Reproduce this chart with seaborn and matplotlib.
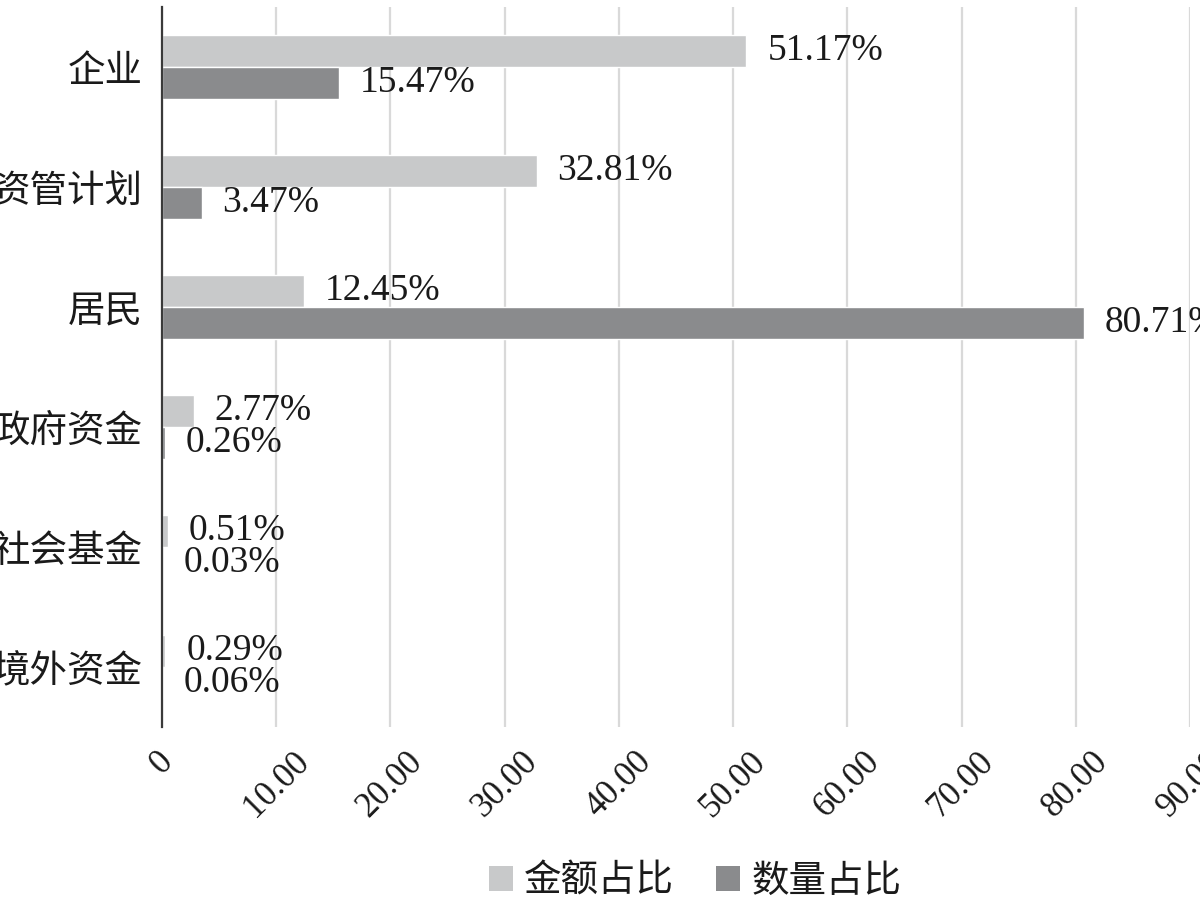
import pandas as pd
import seaborn as sns
import matplotlib.pyplot as plt
from matplotlib.patches import Patch

# 数据
categories = ["企业", "资管计划", "居民", "政府资金", "社会基金", "境外资金"]
amount_share = [51.17, 32.81, 12.45, 2.77, 0.51, 0.29]   # 金额占比
count_share = [15.47, 3.47, 80.71, 0.26, 0.03, 0.06]    # 数量占比
series_names = ["金额占比", "数量占比"]
xticks = [0, 10, 20, 30, 40, 50, 60, 70, 80, 90]
xtick_labels = ["0"] + [f"{v:.2f}" for v in xticks[1:]]

colors = ["#c8c9ca", "#8a8b8d"]
SERIF = ["Liberation Serif", "DejaVu Serif"]
CJK = ["Noto Sans CJK SC", "DejaVu Sans"]

df = pd.DataFrame({
    "类别": categories * 2,
    "占比": amount_share + count_share,
    "系列": [series_names[0]] * len(categories) + [series_names[1]] * len(categories),
})

sns.set_theme(style="white")
plt.rcParams["font.family"] = CJK

fig = plt.figure(figsize=(12, 9), dpi=100)
ax = fig.add_axes([162 / 1200, 1 - 727 / 900, (1190 - 162) / 1200, 720 / 900])

sns.barplot(data=df, y="类别", x="占比", hue="系列", order=categories,
            hue_order=series_names, palette=colors, width=0.53,
            orient="h", saturation=1, ax=ax, legend=False)

for cont, vals in zip(ax.containers, [amount_share, count_share]):
    ax.bar_label(cont, labels=[f"{v:.2f}%" for v in vals], padding=15,
                 fontsize=27, family=SERIF, color="#1a1a1a", clip_on=False)

ax.set_xlim(0, 90)
ax.set_xticks(xticks)
ax.set_xticklabels(xtick_labels, rotation=45, ha="center", va="top",
                   family=SERIF, fontsize=25, color="#1a1a1a")
ax.set_yticks(range(len(categories)))
ax.set_yticklabels(categories, family=CJK, fontsize=27, color="#1a1a1a")
ax.tick_params(axis="both", length=0)
ax.tick_params(axis="x", pad=13)
ax.tick_params(axis="y", pad=14)
ax.set_xlabel("")
ax.set_ylabel("")

ax.grid(axis="x", color="#d9d9d9", linewidth=1.6)
ax.set_axisbelow(True)
for side in ["top", "right", "bottom"]:
    ax.spines[side].set_visible(False)
ax.spines["left"].set_color("#3a3a3a")
ax.spines["left"].set_linewidth(1.6)

handles = [Patch(facecolor=c, edgecolor="none") for c in colors]
fig.legend(handles, series_names, loc="center", bbox_to_anchor=(695 / 1200, 1 - 881 / 900),
           ncol=2, frameon=False, prop={"family": CJK, "size": 27},
           handlelength=0.65, handleheight=0.65, handletextpad=0.3,
           columnspacing=1.1, labelcolor="#1a1a1a")

fig.savefig("out.png", dpi=100)
